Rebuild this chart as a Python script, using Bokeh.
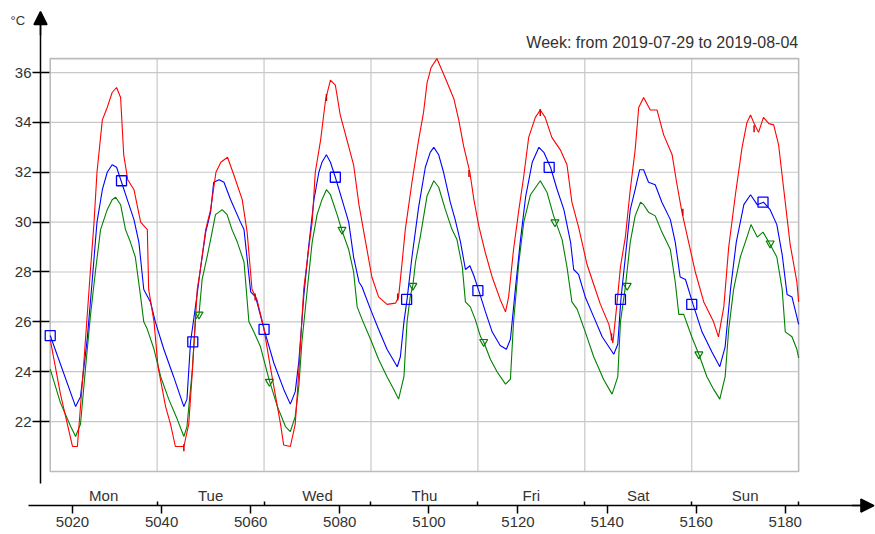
from bokeh.plotting import figure
from bokeh.models import LinearAxis, FixedTicker, Arrow, NormalHead, Label, Range1d
from bokeh.embed import file_html
from bokeh.resources import INLINE
from bokeh.core.properties import value

# ---------------- data (hour of year, °C) ----------------
red_hours = [5015.0, 5017.3, 5020.0, 5021.1, 5022.4, 5024.0, 5024.8, 5025.5, 5026.7, 5027.8,
             5028.9, 5029.9, 5030.8, 5031.5, 5032.4, 5033.8, 5035.3, 5036.8, 5037.1, 5038.3,
             5039.2, 5040.9, 5042.0, 5043.1, 5045.0, 5046.1, 5046.9, 5048.0, 5048.7, 5049.9,
             5051.0, 5052.2, 5053.3, 5054.8, 5056.2, 5058.1, 5059.2, 5060.3, 5061.4, 5062.9,
             5064.4, 5066.7, 5067.4, 5068.9, 5070.0, 5070.8, 5071.9, 5073.0, 5073.8, 5074.5,
             5075.7, 5076.8, 5077.9, 5079.0, 5080.1, 5081.6, 5083.1, 5084.3, 5085.8, 5087.2,
             5088.7, 5090.6, 5092.5, 5093.2, 5094.0, 5094.7, 5096.2, 5097.7, 5098.8, 5099.6,
             5100.5, 5101.8, 5104.1, 5105.6, 5106.7, 5107.8, 5109.2, 5110.1, 5111.2, 5112.7,
             5114.2, 5116.0, 5117.2, 5117.9, 5119.0, 5120.2, 5121.3, 5122.4, 5123.9, 5125.0,
             5126.1, 5127.6, 5129.5, 5131.0, 5132.1, 5133.6, 5135.5, 5137.0, 5138.5, 5140.4,
             5141.3, 5142.2, 5143.0, 5144.1, 5145.2, 5146.3, 5147.1, 5148.2, 5149.7, 5151.2,
             5152.7, 5154.6, 5155.7, 5156.8, 5158.3, 5159.8, 5161.7, 5163.9, 5165.0, 5166.2,
             5167.3, 5168.8, 5170.3, 5171.4, 5172.2, 5172.9, 5174.0, 5175.1, 5176.3, 5177.4,
             5178.5, 5179.6, 5181.1, 5182.6, 5183.0]
red_temps = [25.3, 23.1, 21.0, 21.0, 24.0, 28.0, 29.9, 32.0, 34.1, 34.6,
             35.2, 35.4, 35.0, 32.7, 31.7, 31.3, 30.0, 29.7, 27.3, 26.0,
             24.2, 22.6, 21.9, 21.0, 21.0, 21.9, 24.0, 27.3, 28.1, 29.7,
             30.5, 32.0, 32.4, 32.6, 31.9, 30.9, 29.6, 27.3, 26.9, 25.8,
             24.2, 21.9, 21.06, 21.0, 21.9, 24.0, 27.3, 28.9, 30.0, 32.0,
             33.3, 34.9, 35.7, 35.5, 34.3, 33.3, 32.3, 30.7, 29.2, 27.8,
             27.0, 26.7, 26.75, 27.0, 28.4, 29.7, 31.6, 33.3, 34.4, 35.6,
             36.2, 36.56, 35.6, 34.95, 34.1, 33.05, 32.0, 30.9, 29.85, 28.75,
             27.8, 26.9, 26.4, 27.0, 28.9, 30.5, 31.85, 33.4, 34.2, 34.5,
             34.2, 33.4, 32.9, 32.3, 30.8, 29.8, 28.3, 27.5, 26.7, 25.9,
             25.15, 26.7, 28.2, 29.4, 31.3, 32.9, 34.6, 35.0, 34.5, 34.5,
             33.5, 32.7, 31.5, 30.4, 29.2, 28.0, 26.8, 26.0, 25.4, 26.6,
             29.0, 31.1, 33.0, 34.0, 34.3, 34.0, 33.6, 34.2, 33.95, 33.9,
             33.1, 31.4, 29.1, 27.6, 26.8]

blue_hours = [5015.0, 5020.7, 5021.8, 5023.3, 5024.4, 5025.5, 5026.7, 5027.8, 5028.9, 5029.9,
              5030.9, 5032.3, 5033.8, 5034.9, 5036.0, 5037.5, 5038.6, 5040.5, 5042.7, 5045.0,
              5045.7, 5046.5, 5047.6, 5048.7, 5049.9, 5051.0, 5051.7, 5052.9, 5054.0, 5055.5,
              5057.7, 5058.5, 5060.0, 5061.1, 5063.0, 5065.2, 5067.4, 5068.9, 5070.0, 5070.8,
              5071.9, 5073.0, 5074.2, 5075.3, 5076.0, 5077.0, 5077.9, 5079.0, 5080.5, 5082.0,
              5083.1, 5084.3, 5085.0, 5086.9, 5088.7, 5090.6, 5092.9, 5093.6, 5094.4, 5095.1,
              5096.2, 5097.7, 5099.2, 5100.3, 5101.1, 5102.2, 5103.3, 5104.8, 5105.9, 5107.1,
              5108.2, 5109.2, 5110.1, 5111.2, 5112.7, 5114.2, 5116.0, 5117.4, 5118.3, 5119.4,
              5120.5, 5121.7, 5123.2, 5124.7, 5125.8, 5127.3, 5128.8, 5130.3, 5131.8, 5132.5,
              5133.6, 5135.1, 5137.0, 5138.9, 5141.5, 5142.4, 5143.1, 5144.1, 5145.2, 5146.3,
              5147.3, 5148.2, 5149.3, 5150.8, 5152.3, 5154.2, 5155.3, 5156.4, 5157.6, 5159.3,
              5161.3, 5163.5, 5165.3, 5166.5, 5167.7, 5169.0, 5170.7, 5172.2, 5173.7, 5175.1,
              5176.6, 5178.1, 5179.3, 5180.4, 5181.5, 5182.6, 5183.0]
blue_temps = [25.45, 22.6, 23.0, 25.3, 27.6, 30.0, 31.3, 32.0, 32.3, 32.2,
              31.66, 30.9, 30.1, 29.2, 27.3, 26.8, 26.0, 24.9, 23.8, 22.6,
              22.9, 25.2, 26.6, 28.1, 29.6, 30.4, 31.6, 31.7, 31.6, 30.9,
              30.0, 29.7, 27.2, 27.0, 25.7, 24.35, 23.3, 22.7, 23.2, 24.4,
              27.0, 29.0, 30.9, 32.0, 32.4, 32.7, 32.4, 31.8, 30.9, 30.0,
              28.6, 27.6, 27.4, 26.5, 25.7, 24.9, 24.2, 24.6, 26.0, 26.9,
              28.6, 30.6, 32.2, 32.8, 33.0, 32.7, 32.0, 30.8, 30.1, 29.2,
              28.1, 28.25, 27.85, 27.25, 26.4, 25.6, 25.05, 24.9, 25.3, 27.3,
              29.2, 31.0, 32.4, 33.0, 32.8, 32.2, 31.3, 30.5, 29.2, 28.1,
              27.9, 27.0, 26.2, 25.4, 24.7, 25.1, 26.9, 28.6, 30.5, 31.3,
              32.1, 32.1, 31.6, 31.5, 30.8, 30.1, 29.2, 27.8, 27.7, 26.7,
              25.6, 24.8, 24.2, 25.0, 27.3, 29.2, 30.7, 31.1, 30.7, 30.8,
              30.5, 29.9, 28.7, 27.1, 27.0, 26.2, 25.9]

green_hours = [5015.0, 5017.3, 5019.6, 5020.7, 5021.8, 5022.9, 5024.0, 5025.2, 5026.3, 5027.8,
               5028.9, 5029.7, 5030.8, 5031.9, 5033.0, 5034.1, 5035.3, 5036.0, 5036.8, 5038.3,
               5039.8, 5041.6, 5043.5, 5045.0, 5045.7, 5046.9, 5047.6, 5048.4, 5049.1, 5050.2,
               5051.0, 5052.1, 5053.6, 5054.7, 5055.8, 5057.0, 5058.5, 5059.6, 5060.7, 5062.2,
               5064.1, 5066.0, 5067.8, 5068.9, 5070.0, 5070.8, 5071.5, 5072.7, 5073.8, 5074.9,
               5076.0, 5077.0, 5077.9, 5079.4, 5080.5, 5082.0, 5083.1, 5083.9, 5085.0, 5086.9,
               5088.7, 5090.6, 5092.1, 5093.2, 5094.4, 5095.1, 5095.8, 5096.4, 5097.0, 5098.1,
               5099.6, 5101.1, 5102.2, 5103.7, 5105.2, 5106.3, 5107.5, 5108.2, 5109.3, 5110.4,
               5111.6, 5112.3, 5113.8, 5115.3, 5117.2, 5118.3, 5119.0, 5120.2, 5121.3, 5122.8,
               5125.0, 5126.5, 5128.0, 5129.9, 5131.0, 5132.1, 5133.3, 5135.1, 5137.0, 5139.2,
               5141.1, 5141.5, 5142.4, 5143.0, 5144.1, 5145.2, 5146.3, 5147.5, 5148.2, 5149.3,
               5150.8, 5152.3, 5154.2, 5155.3, 5156.1, 5157.2, 5159.0, 5160.6, 5162.4, 5163.9,
               5165.3, 5166.5, 5167.3, 5168.4, 5169.9, 5171.4, 5172.3, 5173.7, 5175.0, 5176.3,
               5178.1, 5179.3, 5180.0, 5181.5, 5182.6, 5183.0]
green_temps = [24.1, 22.75, 21.8, 21.4, 21.9, 24.1, 26.2, 28.1, 29.7, 30.5,
               30.9, 31.0, 30.7, 29.7, 29.2, 28.6, 27.0, 26.0, 25.7, 24.9,
               23.8, 22.9, 22.1, 21.4, 21.8, 24.1, 26.1, 26.3, 27.7, 28.6,
               29.3, 30.3, 30.5, 30.3, 29.7, 29.2, 28.4, 26.0, 25.6, 25.0,
               23.7, 22.6, 21.8, 21.6, 22.2, 23.4, 25.2, 27.3, 29.2, 30.3,
               30.9, 31.3, 31.1, 30.3, 29.65, 28.9, 28.0, 26.6, 26.1, 25.3,
               24.5, 23.8, 23.3, 22.9, 23.8, 26.0, 27.0, 27.45, 28.4, 29.45,
               31.06, 31.66, 31.4, 30.5, 29.7, 29.3, 28.2, 26.8, 26.6, 26.1,
               25.4, 25.2, 24.5, 24.0, 23.5, 23.7, 26.0, 28.4, 30.0, 31.1,
               31.66, 31.2, 30.25, 29.3, 28.2, 26.8, 26.5, 25.6, 24.6, 23.7,
               23.1, 23.3, 23.8, 26.0, 27.4, 29.2, 30.25, 30.8, 30.7, 30.4,
               30.25, 29.6, 28.9, 27.6, 26.3, 26.3, 25.4, 24.7, 23.8, 23.3,
               22.9, 23.8, 25.7, 27.3, 28.6, 29.4, 29.9, 29.4, 29.6, 29.2,
               28.6, 27.3, 25.6, 25.4, 24.9, 24.55]

red_mark_hours = [5045, 5061, 5077, 5093, 5109, 5125, 5141, 5157, 5173]
red_mark_temps = [20.95, 27.0, 35.0, 27.0, 31.95, 34.4, 25.4, 30.4, 33.75]
blue_mark_hours = [5015, 5031, 5047, 5063, 5079, 5095, 5111, 5127, 5143, 5159, 5175]
blue_mark_temps = [25.45, 31.66, 25.2, 25.7, 31.8, 26.9, 27.25, 32.2, 26.9, 26.7, 30.8]
green_mark_hours = [5048.4, 5064.2, 5080.5, 5096.4, 5112.3, 5128.3, 5144.5, 5160.6, 5176.6]
green_mark_temps = [26.3, 23.6, 29.7, 27.45, 25.2, 30.0, 27.45, 24.7, 29.15]

x_ticks = [5020, 5040, 5060, 5080, 5100, 5120, 5140, 5160, 5180]
y_ticks = [22, 24, 26, 28, 30, 32, 34, 36]
day_bounds = [5015, 5039, 5063, 5087, 5111, 5135, 5159, 5183]
day_names = ["Mon", "Tue", "Wed", "Thu", "Fri", "Sat", "Sun"]
title_text = "Week: from 2019-07-29 to 2019-08-04"
unit_text = "°C"

# ---------------- layout constants ----------------
box_bottom, box_top = 20.0, 36.56
x_axis_y = 18.63
y_axis_x = 5012.82
FONT = "Liberation Sans"
TXT = "#333333"

p = figure(width=875, height=534,
           x_range=Range1d(5003.84, 5200.25), y_range=Range1d(17.47, 38.89),
           x_axis_type=None, y_axis_type=None,
           toolbar_location=None, output_backend="svg", min_border=0)
p.outline_line_color = None
p.background_fill_color = "white"
p.border_fill_color = "white"

# grid
n_y = len(y_ticks)
p.segment(x0=[day_bounds[0]] * n_y, y0=y_ticks, x1=[day_bounds[-1]] * n_y, y1=y_ticks,
          line_color="#c8c8c8", line_width=1.2)
inner = day_bounds[1:-1]
p.segment(x0=inner, y0=[box_bottom] * len(inner), x1=inner, y1=[box_top] * len(inner),
          line_color="#c8c8c8", line_width=1.2)
p.quad(left=[day_bounds[0]], right=[day_bounds[-1]], bottom=[box_bottom], top=[box_top],
       fill_color=None, line_color="#bcbcbc", line_width=1.6)

# series
p.line(green_hours, green_temps, line_color="#008000", line_width=1.1)
p.line(blue_hours, blue_temps, line_color="#0000ff", line_width=1.1)
p.line(red_hours, red_temps, line_color="#ff0000", line_width=1.1)

p.scatter(green_mark_hours, green_mark_temps, marker="inverted_triangle", size=8,
          fill_color=None, line_color="#008000", line_width=1.2)
p.scatter(blue_mark_hours, blue_mark_temps, marker="square", size=10,
          fill_color=None, line_color="#0000ff", line_width=1.3)
p.scatter(red_mark_hours, red_mark_temps, marker="dash", angle=1.5708, size=7,
          line_color="#d00000", line_width=1.5)

# day names
day_centers = [(a + b) / 2 for a, b in zip(day_bounds[:-1], day_bounds[1:])]
p.text(x=day_centers, y=[19.03] * len(day_centers), text=day_names,
       text_align="center", text_baseline="middle",
       text_font=value(FONT), text_font_size="15px", text_color=TXT)

# axes
xaxis = LinearAxis(fixed_location=x_axis_y, bounds=(5010.1, 5198.0),
                   ticker=FixedTicker(ticks=x_ticks, minor_ticks=day_bounds[1:]),
                   axis_line_color="black", axis_line_width=1.5,
                   major_tick_in=0, major_tick_out=8,
                   major_tick_line_color="black", major_tick_line_width=1.5,
                   minor_tick_in=4, minor_tick_out=0,
                   minor_tick_line_color="black", minor_tick_line_width=1.5,
                   major_label_standoff=3,
                   major_label_text_font=FONT, major_label_text_font_size="15px",
                   major_label_text_color=TXT)
p.add_layout(xaxis, "below")

yaxis = LinearAxis(fixed_location=y_axis_x, bounds=(19.51, 38.2),
                   ticker=FixedTicker(ticks=y_ticks),
                   axis_line_color="black", axis_line_width=1.5,
                   major_tick_in=9, major_tick_out=8,
                   major_tick_line_color="black", major_tick_line_width=1.5,
                   minor_tick_in=0, minor_tick_out=0,
                   major_label_standoff=1,
                   major_label_text_font=FONT, major_label_text_font_size="15px",
                   major_label_text_color=TXT)
p.add_layout(yaxis, "left")

p.add_layout(Arrow(end=NormalHead(size=13, fill_color="black", line_color="black",
                                  line_width=1.5),
                   x_start=y_axis_x, y_start=37.5, x_end=y_axis_x, y_end=38.45,
                   line_color="black", line_width=1.5))
p.add_layout(Arrow(end=NormalHead(size=13, fill_color="black", line_color="black",
                                  line_width=1.5),
                   x_start=5195.0, y_start=x_axis_y, x_end=5199.9, y_end=x_axis_y,
                   line_color="black", line_width=1.5))

p.add_layout(Label(x=5006.1, y=38.09, text=unit_text, text_baseline="middle",
                   text_font=FONT, text_font_size="13px", text_color=TXT))
p.add_layout(Label(x=5182.9, y=37.22, text=title_text, text_align="right",
                   text_baseline="middle", text_font=FONT, text_font_size="16px",
                   text_color=TXT))

open("out.html", "w").write(file_html(p, INLINE))
